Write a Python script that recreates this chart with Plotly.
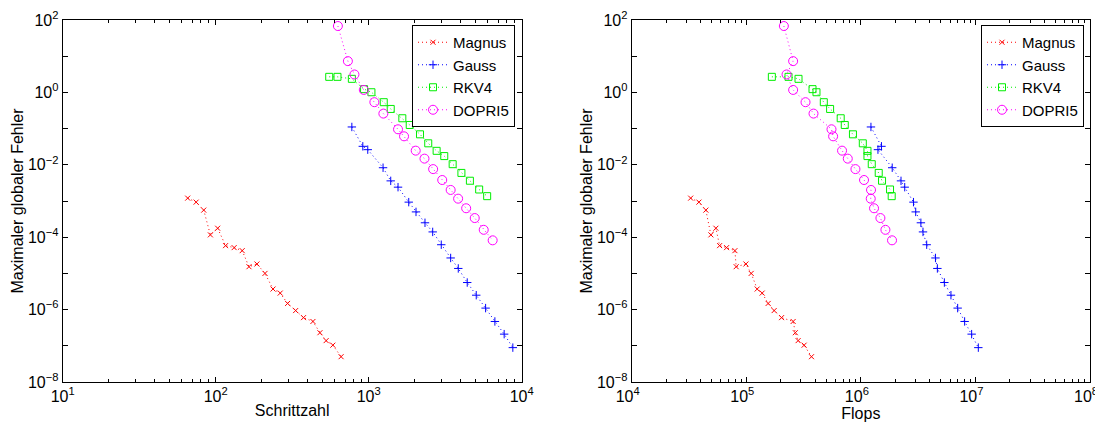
import plotly.graph_objects as go

# ---------------- data ----------------
magnus_err = [1.2e-3, 9.3e-4, 5.6e-4, 1.16e-4, 1.77e-4, 5.85e-5, 5.15e-5, 4.25e-5, 1.53e-5, 1.82e-5,
              1.0e-5, 3.7e-6, 2.86e-6, 1.48e-6, 9.4e-7, 6.0e-7, 4.7e-7, 2.3e-7, 1.39e-7, 1.04e-7, 5.0e-8]
magnus_steps = [65.6, 74.5, 83.5, 92.3, 103, 116, 132, 149, 165, 186, 210, 237, 264, 295, 333, 375,
                432, 480, 527, 583, 660]
magnus_flops = [3.27e4, 3.86e4, 4.44e4, 4.91e4, 5.43e4, 5.85e4, 6.73e4, 7.96e4, 8.16e4, 9.93e4,
                1.104e5, 1.245e5, 1.376e5, 1.552e5, 1.751e5, 2.032e5, 2.565e5, 2.68e5, 2.834e5,
                3.199e5, 3.709e5]

gauss_err = [0.111, 0.0324, 0.0262, 8.3e-3, 3.6e-3, 2.41e-3, 9.3e-4, 5.0e-4, 2.5e-4, 1.4e-4, 6.2e-5,
             2.67e-5, 1.37e-5, 5.6e-6, 2.5e-6, 1.1e-6, 4.7e-7, 2.1e-7, 8.9e-8]
gauss_steps = [776, 915, 986, 1241, 1393, 1555, 1827, 2038, 2333, 2620, 2980, 3433, 3850, 4405, 5045,
               5808, 6680, 7680, 8750]
gauss_flops = [1.225e6, 1.513e6, 1.410e6, 1.878e6, 2.241e6, 2.415e6, 2.879e6, 3.012e6, 3.342e6,
               3.486e6, 3.756e6, 4.479e6, 4.654e6, 5.356e6, 6.115e6, 6.998e6, 8.05e6, 9.27e6, 1.060e7]

rkv4_err = [2.69, 2.69, 2.37, 1.23, 1.01, 0.536, 0.349, 0.193, 0.126, 0.0695, 0.0392, 0.0243, 0.0174,
            0.0104, 5.97e-3, 3.63e-3, 2.08e-3, 1.36e-3]
rkv4_steps = [552, 625, 776, 933, 1042, 1254, 1393, 1659, 1854, 2164, 2450, 2780, 3118, 3538, 4036,
              4586, 5272, 5946]
rkv4_flops = [1.672e5, 2.337e5, 2.857e5, 3.785e5, 4.10e5, 4.75e5, 5.39e5, 6.67e5, 7.24e5, 8.53e5,
              1.04e6, 1.142e6, 1.142e6, 1.245e6, 1.432e6, 1.531e6, 1.798e6, 1.859e6]

dopri5_err = [68.2, 7.31, 3.13, 1.17, 0.536, 0.26, 0.0957, 0.0612, 0.0246, 0.0148, 7.6e-3, 3.8e-3,
              2.02e-3, 1.16e-3, 6.3e-4, 3.38e-4, 1.6e-4, 8.2e-5]
dopri5_steps = [629, 731, 807, 929, 1089, 1247, 1555, 1702, 2029, 2315, 2637, 3024, 3433, 3841, 4335,
                4932, 5646, 6460]
dopri5_flops = [2.128e5, 2.564e5, 2.246e5, 2.564e5, 3.289e5, 3.862e5, 5.544e5, 5.726e5, 6.855e5,
                7.69e5, 8.97e5, 1.066e6, 1.227e6, 1.220e6, 1.303e6, 1.482e6, 1.638e6, 1.871e6]

method_names = ["Magnus", "Gauss", "RKV4", "DOPRI5"]
x_title_left = "Schrittzahl"
x_title_right = "Flops"
y_title = "Maximaler globaler Fehler"

left_xticks = [1, 2, 3, 4]
right_xticks = [4, 5, 6, 7, 8]
y_decades = list(range(-8, 3))

# ---------------- figure ----------------
FONT = "Liberation Sans, Arial, Helvetica, sans-serif"
styles = {
    "Magnus": dict(color="#ff0000", symbol="x-thin", size=5),
    "Gauss": dict(color="#0000ff", symbol="cross-thin", size=6),
    "RKV4": dict(color="#00ee00", symbol="square-open", size=7),
    "DOPRI5": dict(color="#ff00ff", symbol="circle-open", size=9),
}

left_data = [(magnus_steps, magnus_err), (gauss_steps, gauss_err),
             (rkv4_steps, rkv4_err), (dopri5_steps, dopri5_err)]
right_data = [(magnus_flops, magnus_err), (gauss_flops, gauss_err),
              (rkv4_flops, rkv4_err), (dopri5_flops, dopri5_err)]

fig = go.Figure()
for panel, data, xa, ya, leg in [(0, left_data, "x", "y", "legend"),
                                 (1, right_data, "x2", "y2", "legend2")]:
    for name, (xs, ys) in zip(method_names, data):
        st = styles[name]
        fig.add_trace(go.Scatter(
            x=xs, y=ys, name=name, mode="lines+markers",
            xaxis=xa, yaxis=ya, legend=leg,
            line=dict(color=st["color"], width=1, dash="1px,3px"),
            marker=dict(symbol=st["symbol"], size=st["size"], color=st["color"],
                        line=dict(color=st["color"], width=1)),
        ))


def sup(e):
    s = str(e).replace("-", "\u2212")
    return f"10<sup>{s}</sup>"


def minor_vals(lo, hi):
    vals = []
    for d in range(lo, hi):
        for m in range(2, 10):
            vals.append(m * 10 ** d)
    return vals


common_axis = dict(type="log", showline=True, linecolor="black", linewidth=1, mirror="ticks",
                   ticks="inside", ticklen=5, tickcolor="black", showgrid=False, zeroline=False,
                   automargin=False,
                   tickfont=dict(family=FONT, size=16, color="black"))

# page has an 8px body margin, so figure coords = page coords - 8
OFF = 8
W, H = 1103, 425 - OFF
ML, MR, MT, MB = 50, 18, 10, 40
PW = W - ML - MR
PH = H - MT - MB


def px_x(page_x):
    return (page_x - OFF - ML) / PW


def px_y(page_y):
    return (H - MB - (page_y - OFF)) / PH


left_dom = [px_x(62.7), px_x(521.7)]
right_dom = [px_x(631.7), px_x(1090)]
y_dom = [px_y(382), px_y(20)]

yaxis_cfg = dict(common_axis, range=[-8, 2], tickmode="array",
                 tickvals=[10 ** d for d in y_decades],
                 ticktext=[sup(d) if d % 2 == 0 else "" for d in y_decades],
                 title=dict(text=y_title, font=dict(family=FONT, size=16, color="black"), standoff=0))

LEGFONT = dict(family=FONT, size=15, color="black")

fig.update_layout(
    width=W, height=H,
    margin=dict(l=ML, r=MR, t=MT, b=MB, autoexpand=False),
    paper_bgcolor="white", plot_bgcolor="white",
    font=dict(family=FONT, size=16, color="black"),
    xaxis=dict(common_axis, domain=left_dom, range=[1, 4], anchor="y", tickmode="array",
               tickvals=[10 ** d for d in left_xticks], ticktext=[sup(d) for d in left_xticks],
               minor=dict(ticks="inside", ticklen=3, tickcolor="black", tickmode="array",
                          tickvals=minor_vals(1, 4)),
               title=dict(text=x_title_left, font=dict(family=FONT, size=16, color="black"), standoff=0)),
    yaxis=dict(yaxis_cfg, domain=y_dom, anchor="x"),
    xaxis2=dict(common_axis, domain=right_dom, range=[4, 8], anchor="y2", tickmode="array",
                tickvals=[10 ** d for d in right_xticks], ticktext=[sup(d) for d in right_xticks],
                ticklabelshift=-4,
                minor=dict(ticks="inside", ticklen=3, tickcolor="black", tickmode="array",
                           tickvals=minor_vals(4, 8)),
                title=dict(text=x_title_right, font=dict(family=FONT, size=16, color="black"), standoff=0)),
    yaxis2=dict(yaxis_cfg, domain=y_dom, anchor="x2"),
    legend=dict(x=px_x(515), y=px_y(25), xanchor="right", yanchor="top",
                bgcolor="white", bordercolor="black", borderwidth=1,
                font=LEGFONT, tracegroupgap=0, itemwidth=30),
    legend2=dict(x=px_x(1084), y=px_y(25), xanchor="right", yanchor="top",
                 bgcolor="white", bordercolor="black", borderwidth=1,
                 font=LEGFONT, tracegroupgap=0, itemwidth=30),
    showlegend=True,
)

fig.write_html("out.html")
